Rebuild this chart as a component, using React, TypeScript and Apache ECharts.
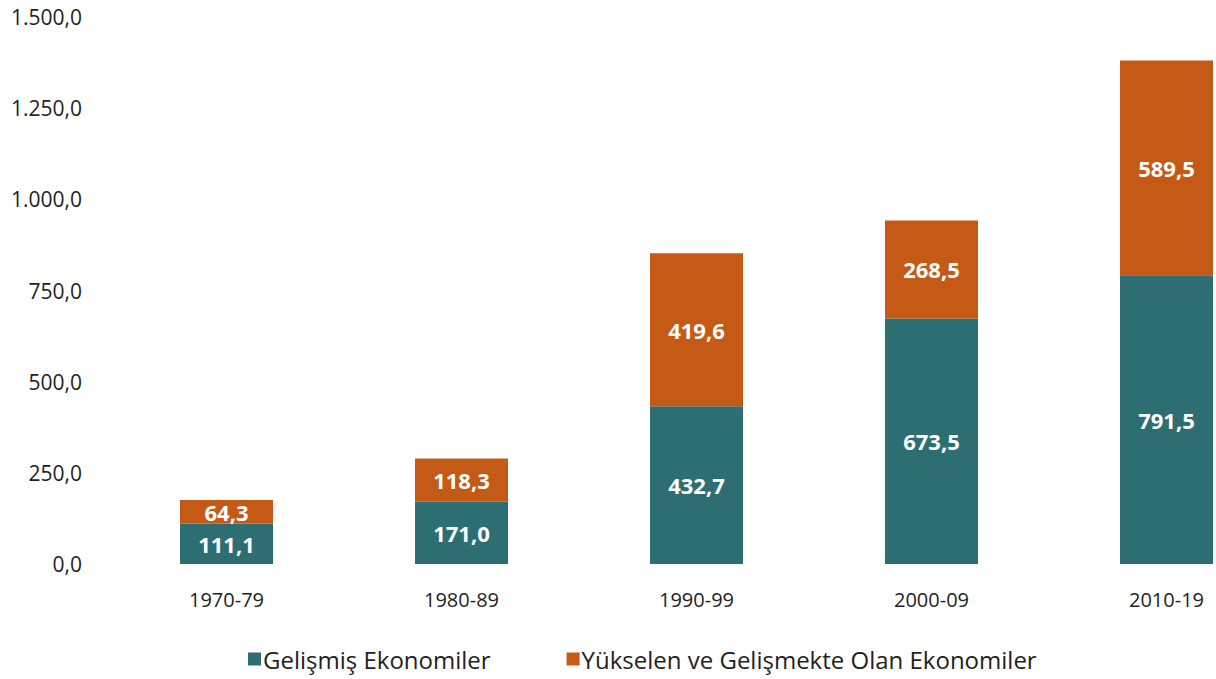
import React, { useEffect, useRef } from "react";
import * as echarts from "echarts";

const categories = ["1970-79", "1980-89", "1990-99", "2000-09", "2010-19"];
const developed = [111.1, 171.0, 432.7, 673.5, 791.5];
const emerging = [64.3, 118.3, 419.6, 268.5, 589.5];
const seriesNames = ["Gelişmiş Ekonomiler", "Yükselen ve Gelişmekte Olan Ekonomiler"];

const fmt = (v: number) => {
  const s = v.toFixed(1);
  const [i, d] = s.split(".");
  return i.replace(/\B(?=(\d{3})+(?!\d))/g, ".") + "," + d;
};

const FONT = "'Open Sans', 'Noto Sans', sans-serif";

export default function App() {
  const ref = useRef<HTMLDivElement>(null);
  useEffect(() => {
    if (!ref.current) return;
    const chart = echarts.init(ref.current, null, { renderer: "svg" });
    const label = {
      show: true,
      position: "inside" as const,
      color: "#ffffff",
      fontFamily: FONT,
      fontWeight: "bold" as const,
      fontSize: 22,
      formatter: (p: any) => fmt(p.value),
    };
    chart.setOption({
      animation: false,
      textStyle: { fontFamily: FONT },
      grid: { left: 109, width: 1175, top: 17, bottom: 115, containLabel: false },
      legend: {
        left: 243,
        top: 640,
        itemWidth: 13,
        itemHeight: 13,
        itemGap: 76,
        icon: "rect",
        textStyle: {
          fontFamily: FONT,
          fontSize: 24,
          lineHeight: 28,
          color: "#231f20",
          padding: [0, 0, 0, -3],
        },
        data: seriesNames,
      },
      xAxis: {
        type: "category",
        data: categories,
        axisLine: { show: false },
        axisTick: { show: false },
        axisLabel: { margin: 25, fontSize: 20, color: "#231f20", fontFamily: FONT },
      },
      yAxis: {
        type: "value",
        min: 0,
        max: 1500,
        interval: 250,
        splitLine: { show: false },
        axisLine: { show: false },
        axisTick: { show: false },
        axisLabel: {
          margin: 27,
          fontSize: 21,
          color: "#231f20",
          fontFamily: FONT,
          formatter: (v: number) => fmt(v),
        },
      },
      series: [
        {
          name: seriesNames[0],
          type: "bar",
          stack: "total",
          data: developed,
          barWidth: 93,
          itemStyle: { color: "#2D6E73" },
          label,
        },
        {
          name: seriesNames[1],
          type: "bar",
          stack: "total",
          data: emerging,
          barWidth: 93,
          itemStyle: { color: "#C55A16" },
          label,
        },
      ],
    });
    return () => chart.dispose();
  }, []);
  return (
    <div
      style={{ position: "absolute", left: 0, top: 0, width: 1216, height: 679, overflow: "hidden", background: "#fff" }}
    >
      <div ref={ref} style={{ width: 1300, height: 679 }} />
    </div>
  );
}
